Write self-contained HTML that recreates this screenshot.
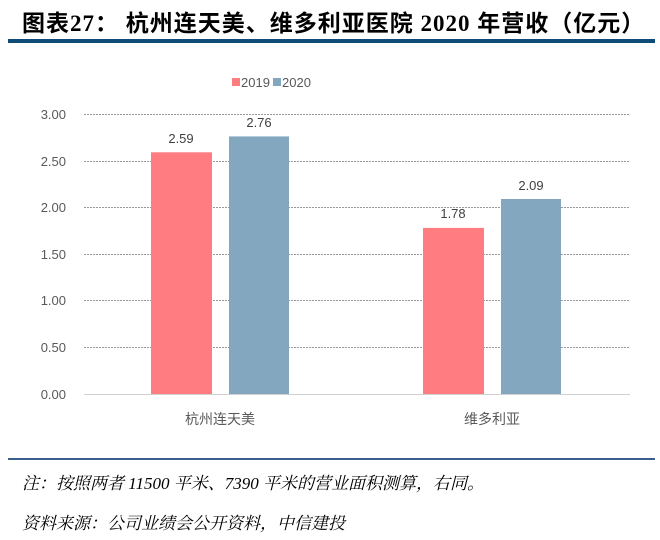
<!DOCTYPE html>
<html><head><meta charset="utf-8"><style>
body{margin:0;background:#fff;width:660px;height:540px;overflow:hidden;position:relative;font-family:"Liberation Sans","Noto Sans CJK SC",sans-serif}
.t{position:absolute;left:22px;top:4px;font-size:23px;letter-spacing:1px;font-weight:bold;color:#000;font-family:"Liberation Serif","Noto Sans CJK SC",serif;white-space:nowrap}
.i{position:absolute;left:22px;font-size:17px;font-style:italic;font-family:"Liberation Serif","Noto Serif CJK SC",serif;color:#000;white-space:nowrap}
</style></head><body>
<div class="t">图表27：&nbsp;杭州连天美、维多利亚医院 2020 年营收（亿元）</div>
<div style="position:absolute;left:8px;top:39px;width:647px;height:4px;background:#0f4c78"></div>
<svg style="position:absolute;left:0;top:0" width="660" height="540" font-family="Liberation Sans, Noto Sans CJK SC, sans-serif">
<g stroke="#999" stroke-dasharray="2,1" stroke-width="1">
<line x1="84" x2="630" y1="114.5" y2="114.5"/><line x1="84" x2="630" y1="161.5" y2="161.5"/>
<line x1="84" x2="630" y1="207.5" y2="207.5"/><line x1="84" x2="630" y1="254.5" y2="254.5"/>
<line x1="84" x2="630" y1="300.5" y2="300.5"/><line x1="84" x2="630" y1="347.5" y2="347.5"/>
</g>
<line x1="84" x2="630" y1="394.5" y2="394.5" stroke="#d0d0d0"/>
<g font-size="13" fill="#595959" text-anchor="end">
<text x="66" y="119">3.00</text><text x="66" y="166">2.50</text><text x="66" y="212">2.00</text>
<text x="66" y="259">1.50</text><text x="66" y="305">1.00</text><text x="66" y="352">0.50</text><text x="66" y="399">0.00</text>
</g>
<rect x="151" y="152.3" width="61" height="241.7" fill="#ff7c80"/>
<rect x="229" y="136.4" width="60" height="257.6" fill="#84a7c0"/>
<rect x="423" y="227.9" width="61" height="166.1" fill="#ff7c80"/>
<rect x="501" y="199" width="60" height="195" fill="#84a7c0"/>
<g font-size="13" fill="#404040" text-anchor="middle">
<text x="181" y="143">2.59</text><text x="259" y="127">2.76</text>
<text x="453" y="218">1.78</text><text x="531" y="190">2.09</text>
</g>
<g font-size="14" fill="#595959" text-anchor="middle">
<text x="220" y="424">杭州连天美</text><text x="492" y="424">维多利亚</text>
</g>
<rect x="232" y="78" width="8" height="8" fill="#ff7c80"/>
<rect x="273" y="78" width="8" height="8" fill="#84a7c0"/>
<g font-size="13" fill="#595959"><text x="241" y="87">2019</text><text x="282" y="87">2020</text></g>
</svg>
<div style="position:absolute;left:8px;top:458px;width:647px;height:2px;background:#3a5f8f"></div>
<div class="i" style="top:469px">注：按照两者 11500 平米、7390 平米的营业面积测算，右同。</div>
<div class="i" style="top:509px">资料来源：公司业绩会公开资料，中信建投</div>
</body></html>
